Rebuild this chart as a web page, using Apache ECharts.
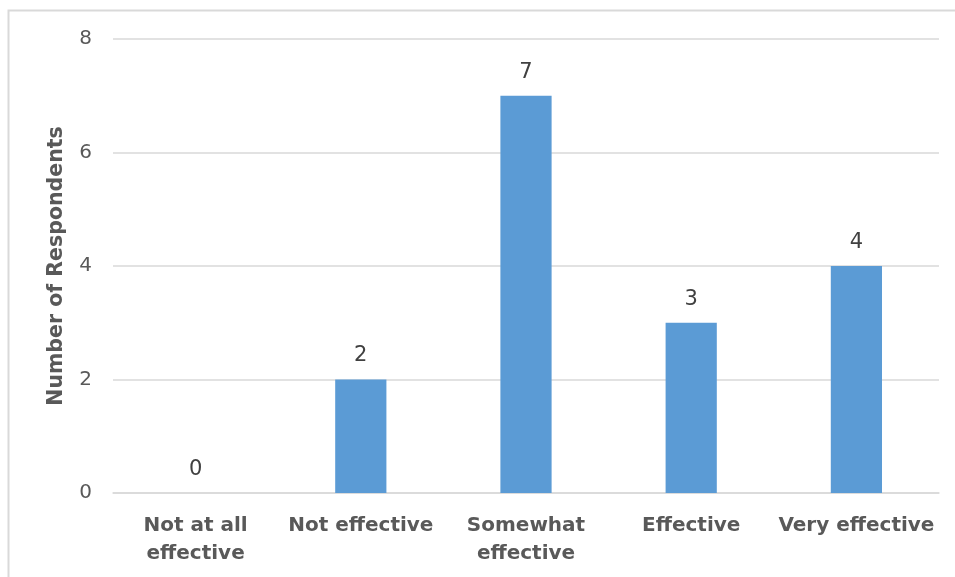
<!DOCTYPE html>
<html>
<head>
<meta charset="utf-8">
<script src="https://cdn.jsdelivr.net/npm/echarts@6/dist/echarts.min.js"></script>
<style>
  html, body { margin: 0; padding: 0; background: #fff; }
  #chart { width: 955px; height: 577px; }
</style>
</head>
<body>
<div id="chart"></div>
<script>
// Survey responses on effectiveness
const categories = ['Not at all\neffective', 'Not effective', 'Somewhat\neffective', 'Effective', 'Very effective'];
const respondents = [0, 2, 7, 3, 4];
const yTicks = { min: 0, max: 8, interval: 2 };

const FONT = '"DejaVu Sans", "Open Sans", sans-serif';

const chart = echarts.init(document.getElementById('chart'));
chart.setOption({
  animation: false,
  backgroundColor: '#ffffff',
  graphic: [{
    type: 'rect',
    shape: { x: 8.5, y: 10.5, width: 960, height: 600 },
    style: { fill: 'none', stroke: '#d9d9d9', lineWidth: 2 },
    silent: true
  }],
  grid: { left: 113, right: 16, top: 39, bottom: 84 },
  xAxis: {
    type: 'category',
    data: categories,
    axisTick: { show: false },
    axisLine: { lineStyle: { color: '#d9d9d9', width: 1.5 } },
    axisLabel: {
      color: '#595959',
      fontFamily: FONT,
      fontWeight: 'bold',
      fontSize: 20,
      lineHeight: 28,
      margin: 19,
      interval: 0
    }
  },
  yAxis: {
    type: 'value',
    min: yTicks.min,
    max: yTicks.max,
    interval: yTicks.interval,
    name: 'Number of Respondents',
    nameLocation: 'middle',
    nameGap: 46,
    nameTextStyle: {
      color: '#595959',
      fontFamily: FONT,
      fontWeight: 'bold',
      fontSize: 20.5
    },
    axisLine: { show: false },
    axisTick: { show: false },
    axisLabel: {
      color: '#595959',
      fontFamily: FONT,
      fontSize: 20,
      margin: 21
    },
    splitLine: { lineStyle: { color: '#d9d9d9', width: 1.5 } }
  },
  series: [{
    type: 'bar',
    data: respondents,
    barWidth: '31%',
    itemStyle: { color: '#5b9bd5' },
    label: {
      show: true,
      position: 'top',
      distance: 13,
      color: '#404040',
      fontFamily: FONT,
      fontSize: 21
    }
  }]
});
</script>
</body>
</html>
